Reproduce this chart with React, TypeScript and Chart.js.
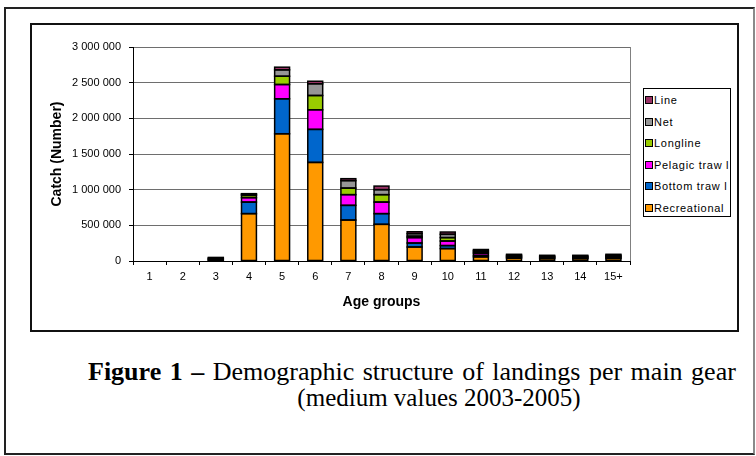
import React, { useEffect, useRef } from 'react';
import { Chart, registerables } from 'chart.js';

Chart.register(...registerables);

// Age groups on the category axis
const ageGroups = ['1', '2', '3', '4', '5', '6', '7', '8', '9', '10', '11', '12', '13', '14', '15+'];

// Catch (number of fish) per gear and age group
const recreational = [0, 0, 5000, 664000, 1784000, 1382000, 574000, 514000, 196000, 174000, 58000, 40000, 34000, 34000, 36000];
const bottomTrawl = [0, 0, 10000, 162000, 490000, 463000, 206000, 150000, 56000, 42000, 20000, 8000, 7000, 7000, 9000];
const pelagicTrawl = [0, 0, 10000, 62000, 200000, 275000, 150000, 162000, 76000, 64000, 30000, 14000, 11000, 11000, 14000];
const longline = [0, 0, 8000, 32000, 116000, 200000, 92000, 104000, 20000, 48000, 18000, 8000, 8000, 8000, 10000];
const net = [0, 0, 10000, 16000, 90000, 165000, 105000, 70000, 36000, 46000, 20000, 14000, 11000, 11000, 13000];
const line = [0, 0, 7000, 8000, 37000, 35000, 27000, 50000, 26000, 32000, 15000, 10000, 9000, 9000, 12000];

// Gear names and fill colours, bottom of the stack first
const gearNames = ['Recreational', 'Bottom traw l', 'Pelagic traw l', 'Longline', 'Net', 'Line'];
const gearColors = ['#FF9900', '#0066CC', '#FF00FF', '#99CC00', '#969696', '#993366'];
const gearValues = [recreational, bottomTrawl, pelagicTrawl, longline, net, line];

// Y-axis range
const yMin = 0;
const yMax = 3000000;
const yStep = 500000;

const sans = "'Liberation Sans', Arial, sans-serif";
const serif = "'Liberation Serif', 'Times New Roman', serif";

const withSpaces = (v: number) => String(Math.round(v)).replace(/\B(?=(\d{3})+(?!\d))/g, ' ');

// Grey frame on the right side of the plot area
const plotFrame = {
  id: 'plotFrame',
  beforeDatasetsDraw(chart: any) {
    const { ctx, chartArea } = chart;
    ctx.save();
    ctx.strokeStyle = '#808080';
    ctx.lineWidth = 1;
    ctx.beginPath();
    ctx.moveTo(Math.round(chartArea.right) + 0.5, chartArea.top);
    ctx.lineTo(Math.round(chartArea.right) + 0.5, chartArea.bottom);
    ctx.stroke();
    ctx.restore();
  },
};

// Black outline around every stacked segment, however thin it is
const segmentOutlines = {
  id: 'segmentOutlines',
  afterDatasetsDraw(chart: any) {
    const { ctx } = chart;
    ctx.save();
    ctx.strokeStyle = '#000000';
    ctx.lineWidth = 1.5;
    chart.data.datasets.forEach((ds: any, di: number) => {
      const meta = chart.getDatasetMeta(di);
      meta.data.forEach((el: any, i: number) => {
        if (!ds.data[i]) return;
        const { x, y, base, width } = el.getProps(['x', 'y', 'base', 'width'], true);
        const top = Math.min(y, base);
        const h = Math.abs(base - y);
        ctx.strokeRect(x - width / 2, top, width, h);
      });
    });
    ctx.restore();
  },
};

function StackedCatchChart() {
  const canvasRef = useRef<HTMLCanvasElement | null>(null);

  useEffect(() => {
    if (!canvasRef.current) return;
    const chart = new Chart(canvasRef.current, {
      type: 'bar',
      data: {
        labels: ageGroups,
        datasets: gearNames.map((name, i) => ({
          label: name,
          data: gearValues[i],
          backgroundColor: gearColors[i],
          borderWidth: 0,
          barPercentage: 0.45,
          categoryPercentage: 1,
        })),
      },
      options: {
        animation: false,
        responsive: false,
        devicePixelRatio: 1,
        layout: { padding: { left: 0, top: 22, right: 107, bottom: 0 } },
        plugins: {
          legend: { display: false },
          tooltip: { enabled: false },
        },
        scales: {
          x: {
            stacked: true,
            afterFit: (scale: any) => {
              scale.height = 69;
            },
            grid: {
              display: true,
              drawOnChartArea: false,
              drawTicks: true,
              tickLength: 4,
              tickColor: '#000000',
              offset: true,
            },
            border: { display: true, color: '#000000', width: 1 },
            ticks: {
              color: '#000000',
              font: { family: sans, size: 11 },
              padding: 5,
              maxRotation: 0,
              autoSkip: false,
            },
            title: {
              display: true,
              text: 'Age groups',
              color: '#000000',
              font: { family: sans, size: 14, weight: 'bold' },
              padding: { top: 0, bottom: 19 },
            },
          },
          y: {
            stacked: true,
            min: yMin,
            max: yMax,
            afterFit: (scale: any) => {
              scale.width = 101;
            },
            grid: {
              color: '#6e6e6e',
              lineWidth: 1,
              drawTicks: true,
              tickLength: 4,
              tickColor: '#000000',
            },
            border: { display: true, color: '#000000', width: 1 },
            ticks: {
              stepSize: yStep,
              color: '#000000',
              font: { family: sans, size: 11 },
              padding: 8,
              callback: (v: any) => withSpaces(Number(v)),
            },
            title: {
              display: true,
              text: 'Catch (Number)',
              color: '#000000',
              font: { family: sans, size: 14, weight: 'bold' },
              padding: { top: 17, bottom: 0 },
            },
          },
        },
      },
      plugins: [plotFrame, segmentOutlines],
    } as any);
    return () => chart.destroy();
  }, []);

  return <canvas ref={canvasRef} width={705} height={305} style={{ display: 'block', width: 705, height: 305 }} />;
}

function GearLegend() {
  const order = gearNames.map((_, i) => i).reverse();
  return (
    <div
      style={{
        position: 'absolute',
        left: 643,
        top: 88,
        width: 88,
        height: 129,
        border: '1px solid #000',
        boxSizing: 'border-box',
        background: '#fff',
      }}
    >
      {order.map((i, k) => (
        <div
          key={gearNames[i]}
          style={{
            position: 'absolute',
            left: 1,
            top: 4 + k * 21.6,
            height: 14,
            display: 'flex',
            alignItems: 'center',
            whiteSpace: 'nowrap',
            fontFamily: sans,
            fontSize: 11,
            letterSpacing: '0.7px',
            color: '#000',
          }}
        >
          <span
            style={{
              display: 'inline-block',
              width: 6,
              height: 6,
              background: gearColors[i],
              border: '1px solid #000',
              marginRight: 1,
            }}
          />
          {gearNames[i]}
        </div>
      ))}
    </div>
  );
}

export default function App() {
  return (
    <div style={{ position: 'absolute', left: 0, top: 0, width: 756, height: 456, background: '#fff' }}>
      {/* outer frame */}
      <div
        style={{
          position: 'absolute',
          left: 4,
          top: 7,
          width: 751,
          height: 448,
          boxSizing: 'border-box',
          borderTop: '2px solid #222',
          borderLeft: '2px solid #222',
          borderBottom: '2px solid #222',
          borderRight: '2px solid #8a8a8a',
        }}
      />
      {/* chart frame */}
      <div
        style={{
          position: 'absolute',
          left: 30,
          top: 23,
          width: 709,
          height: 309,
          boxSizing: 'border-box',
          border: '2px solid #111',
        }}
      />
      <div style={{ position: 'absolute', left: 32, top: 25 }}>
        <StackedCatchChart />
      </div>
      <GearLegend />
      <div
        style={{
          position: 'absolute',
          left: 88,
          top: 359,
          whiteSpace: 'nowrap',
          fontFamily: serif,
          fontSize: 26,
          lineHeight: '26px',
          wordSpacing: '2px',
          color: '#000',
        }}
      >
        <b>Figure 1 –</b> Demographic structure of landings per main gear
      </div>
      <div
        style={{
          position: 'absolute',
          left: 289,
          width: 300,
          top: 385,
          textAlign: 'center',
          whiteSpace: 'nowrap',
          fontFamily: serif,
          fontSize: 25,
          lineHeight: '26px',
          color: '#000',
        }}
      >
        (medium values 2003-2005)
      </div>
    </div>
  );
}
